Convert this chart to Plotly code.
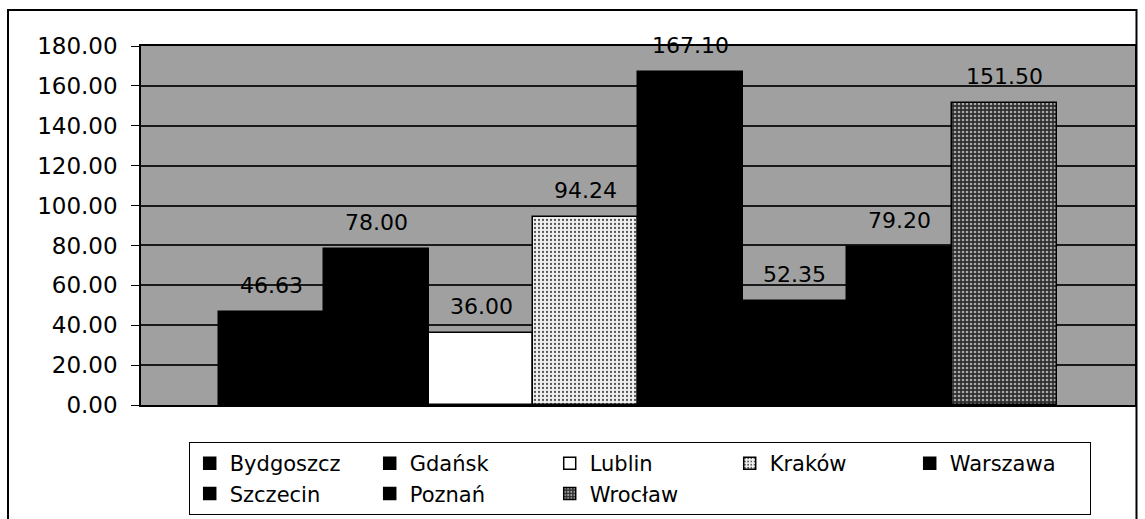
import plotly.graph_objects as go

cities = ["Bydgoszcz", "Gdańsk", "Lublin", "Kraków", "Warszawa", "Szczecin", "Poznań", "Wrocław"]
values = [46.63, 78.00, 36.00, 94.24, 167.10, 52.35, 79.20, 151.50]
tick_vals = [0, 20, 40, 60, 80, 100, 120, 140, 160, 180]
tick_text = ["0.00", "20.00", "40.00", "60.00", "80.00", "100.00", "120.00", "140.00", "160.00", "180.00"]

FONT = "DejaVu Sans"

styles = {
    "Bydgoszcz": dict(color="#000000"),
    "Gdańsk": dict(color="#000000"),
    "Lublin": dict(color="#ffffff"),
    "Kraków": dict(color="#ffffff", pattern=dict(shape=".", fgcolor="#555555", bgcolor="#f0f0f0", size=4, solidity=0.25, fillmode="replace")),
    "Warszawa": dict(color="#000000"),
    "Szczecin": dict(color="#000000"),
    "Poznań": dict(color="#000000"),
    "Wrocław": dict(color="#444444", pattern=dict(shape=".", fgcolor="#aaaaaa", bgcolor="#2e2e2e", size=4, solidity=0.35, fillmode="replace")),
}

fig = go.Figure()
for c, v in zip(cities, values):
    st = styles[c]
    marker = dict(color=st["color"], line=dict(color="#000000", width=1.5))
    if "pattern" in st:
        marker["pattern"] = st["pattern"]
    fig.add_trace(go.Bar(name=c, x=[c], y=[v], marker=marker, width=1.0, hoverinfo="skip"))

annotations = []
for c, v in zip(cities, values):
    annotations.append(dict(x=c, y=v, xref="x", yref="y", text=f"{v:.2f}", showarrow=False,
                            yanchor="bottom", yshift=12, font=dict(family=FONT, size=22, color="#000000")))

fig.update_layout(
    width=1145, height=519,
    margin=dict(l=141, r=10, t=46, b=114, autoexpand=False),
    paper_bgcolor="#ffffff",
    plot_bgcolor="#a0a0a0",
    barmode="overlay",
    bargap=0,
    showlegend=True,
    font=dict(family=FONT, size=21, color="#000000"),
    legend=dict(
        orientation="h",
        x=0.048, xanchor="left",
        y=-0.103, yanchor="top",
        bgcolor="#ffffff",
        bordercolor="#000000", borderwidth=1,
        entrywidth=135, entrywidthmode="pixels",
        font=dict(family=FONT, size=21, color="#000000"),
        traceorder="normal",
        itemclick=False, itemdoubleclick=False,
    ),
    annotations=annotations,
    shapes=[dict(type="rect", xref="paper", yref="paper",
                 x0=-0.1338, x1=1.0015, y0=-0.34, y1=1.1003,
                 line=dict(color="#000000", width=2), layer="below")],
)

fig.update_xaxes(
    type="category", categoryorder="array", categoryarray=cities,
    range=[-1.25, 8.25], showticklabels=False, ticks="",
    showline=True, linecolor="#000000", linewidth=2, mirror=True,
    showgrid=False, zeroline=False,
)
fig.update_yaxes(
    range=[0, 180], tickvals=tick_vals, ticktext=tick_text,
    ticks="outside", ticklen=8, tickcolor="#000000", tickwidth=1,
    ticklabelstandoff=9,
    tickfont=dict(family=FONT, size=23, color="#000000"),
    showgrid=True, gridcolor="#1a1a1a", gridwidth=1.5,
    showline=True, linecolor="#000000", linewidth=1.5, mirror=True,
    zeroline=False,
)

fig.write_html("out.html", config={"displayModeBar": False},
               post_script="document.body.style.margin='0px'; document.body.style.overflow='hidden';")
